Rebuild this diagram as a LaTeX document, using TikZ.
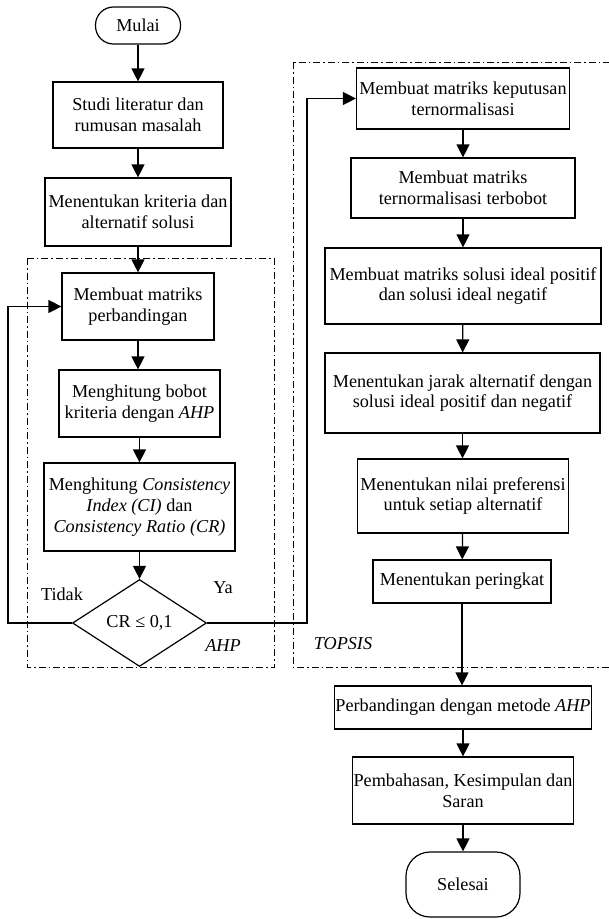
\documentclass[tikz,border=0pt]{standalone}
\usepackage{fontspec}
\setmainfont{Liberation Serif}
\usetikzlibrary{shapes.geometric, arrows.meta, positioning, calc}

\begin{document}
\begin{tikzpicture}[x=1pt,y=-1pt,
  font=\fontsize{18.2}{20.8}\selectfont,
  box/.style={draw, line width=1.2pt, align=center, inner sep=1pt},
  term/.style={draw, line width=1.2pt, align=center},
  flow/.style={line width=1.2pt, -{Triangle[length=13pt,width=13pt]}},
  group/.style={line width=0.8pt, dash pattern=on 7pt off 3pt on 1.5pt off 3pt}]
\useasboundingbox (0,0) rectangle (609,919);
\clip (0,0) rectangle (609,919);
% AHP column
\node[term, rounded corners=18pt, minimum width=85pt, minimum height=37pt] (mulai) at (138,25.5) {Mulai};
\node[box, minimum width=170pt, minimum height=66pt] (studi) at (138,115) {Studi literatur dan\\rumusan masalah};
\node[box, minimum width=186pt, minimum height=68pt] (kriteria) at (138,212) {Menentukan kriteria dan\\alternatif solusi};
\node[box, minimum width=152pt, minimum height=67pt] (banding) at (138,306.5) {Membuat matriks\\perbandingan};
\node[box, minimum width=161pt, minimum height=67pt] (bobot) at (139.5,403.5) {Menghitung bobot\\kriteria dengan \textit{AHP}};
\node[box, minimum width=191pt, minimum height=88pt] (konsisten) at (139.5,507) {Menghitung \textit{Consistency}\\\textit{Index (CI)} dan\\\textit{Consistency Ratio (CR)}};
\node[draw, diamond, aspect=1.54, line width=1.2pt, inner sep=1pt, minimum width=134pt, minimum height=87pt] (cek) at (139.5,623) {CR ≤ 0,1};
% TOPSIS column
\node[box, minimum width=213pt, minimum height=61pt] (normal) at (463,98.5) {Membuat matriks keputusan\\ternormalisasi};
\node[box, minimum width=224pt, minimum height=60pt] (terbobot) at (463,188) {Membuat matriks\\ternormalisasi terbobot};
\node[box, minimum width=276pt, minimum height=76pt] (ideal) at (463,286) {Membuat matriks solusi ideal positif\\dan solusi ideal negatif};
\node[box, minimum width=275pt, minimum height=80pt] (jarak) at (462.5,393) {Menentukan jarak alternatif dengan\\solusi ideal positif dan negatif};
\node[box, minimum width=211pt, minimum height=74pt] (preferensi) at (463,496) {Menentukan nilai preferensi\\untuk setiap alternatif};
\node[box, minimum width=178pt, minimum height=43pt] (peringkat) at (462,581.5) {Menentukan peringkat};
% Closing steps
\node[box, minimum width=256pt, minimum height=43pt] (metode) at (463,707.5) {Perbandingan dengan metode \textit{AHP}};
\node[box, minimum width=217pt, minimum height=67pt] (bahas) at (463,790.5) {Pembahasan, Kesimpulan dan\\Saran};
\node[term, rounded corners=24pt, minimum width=114pt, minimum height=65pt] (selesai) at (463,884.5) {Selesai};
% Groups
\draw[group] (27,258) rectangle (274,667);
\draw[group] (293,62) rectangle (615,667);
\node (ahp) at (223,645) {\textit{AHP}};
\node (topsis) at (343,644) {\textit{TOPSIS}};
\node (tidak) at (62,594) {Tidak};
\node (ya) at (223,588) {Ya};
% Connectors
\draw[flow] (mulai) -- (studi);
\draw[flow] (studi) -- (kriteria);
\draw[flow] (kriteria) -- (banding);
\draw[flow] (banding) -- (banding |- bobot.north);
\draw[flow] (bobot) -- (konsisten);
\draw[flow] (konsisten) -- (cek);
\coordinate (kiri) at (8,623);
\coordinate (kanan) at (307,623);
\draw[flow] (cek.west) -- (kiri) |- (banding.west);
\draw[flow] (cek.east) -- (kanan) |- (normal.west);
\draw[flow] (normal) -- (terbobot);
\draw[flow] (terbobot) -- (ideal);
\draw[flow] (ideal) -- (jarak);
\draw[flow] (jarak) -- (jarak |- preferensi.north);
\draw[flow] (preferensi) -- (peringkat);
\draw[flow] (peringkat) -- (peringkat |- metode.north);
\draw[flow] (metode) -- (bahas);
\draw[flow] (bahas) -- (selesai);
\end{tikzpicture}
\end{document}
